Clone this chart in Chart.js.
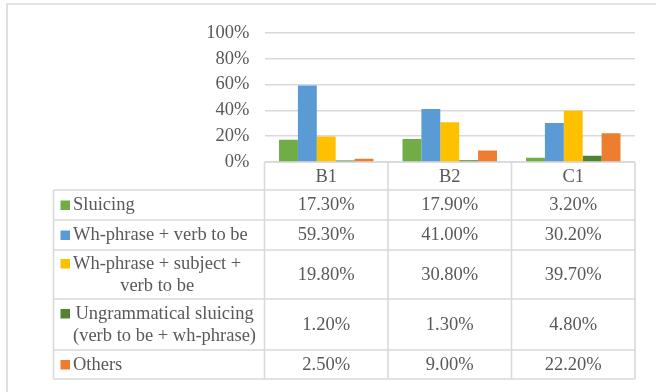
<!DOCTYPE html>
<html>
<head>
<meta charset="utf-8">
<script src="https://cdn.jsdelivr.net/npm/chart.js@4.4.1/dist/chart.umd.min.js"></script>
<style>
  html, body { margin: 0; padding: 0; background: #ffffff; }
  #wrap { width: 656px; height: 392px; position: relative; }
</style>
</head>
<body>
<div id="wrap"><canvas id="chart" width="656" height="392"></canvas></div>
<script>
// Proficiency levels (categories)
const levels = ['B1', 'B2', 'C1'];

// Response types, as wrapped in the table's first column
const seriesNames = [
  'Sluicing',
  'Wh-phrase + verb to be',
  'Wh-phrase + subject + verb to be',
  'Ungrammatical sluicing (verb to be + wh-phrase)',
  'Others'
];
const seriesLines = [
  ['Sluicing'],
  ['Wh-phrase + verb to be'],
  ['Wh-phrase + subject +', 'verb to be'],
  ['Ungrammatical sluicing', '(verb to be + wh-phrase)'],
  ['Others']
];

// Percentages per level
const sluicing      = [17.3, 17.9, 3.2];
const whVerbToBe    = [59.3, 41.0, 30.2];
const whSubjVerb    = [19.8, 30.8, 39.7];
const ungrammatical = [1.2, 1.3, 4.8];
const others        = [2.5, 9.0, 22.2];

// Value axis ticks
const yTicks = [0, 20, 40, 60, 80, 100];

const seriesValues = [sluicing, whVerbToBe, whSubjVerb, ungrammatical, others];
const seriesColors = ['#70ad47', '#5b9bd5', '#ffc000', '#548235', '#ed7d31'];

const FONT_FAMILY = "'Times New Roman', 'Liberation Serif', serif";
const FONT_SIZE = 18.5;
const TEXT_COLOR = '#595959';
const LINE_COLOR = '#d9d9d9';

// Row boundaries of the data table (header row first)
const tableRows = [162, 190, 220, 250, 299, 350, 379];
const tableLeft = 53.5;

// Draws the outer frame and the data table underneath the plot
const dataTablePlugin = {
  id: 'dataTable',
  beforeDatasetsDraw(chart) {
    const { ctx, scales: { x } } = chart;
    const n = levels.length;
    // column edges taken from the category scale
    const edges = [x.left];
    for (let i = 0; i < n - 1; i++) {
      edges.push((x.getPixelForTick(i) + x.getPixelForTick(i + 1)) / 2);
    }
    edges.push(x.right);

    ctx.save();
    ctx.strokeStyle = LINE_COLOR;
    ctx.lineWidth = 1.6;

    // outer frame (top and left visible)
    ctx.beginPath();
    ctx.moveTo(7, 392);
    ctx.lineTo(7, 4);
    ctx.lineTo(656, 4);
    ctx.stroke();

    const top = tableRows[0];
    const bottom = tableRows[tableRows.length - 1];
    ctx.beginPath();
    // horizontal lines
    ctx.moveTo(edges[0], top); ctx.lineTo(edges[n], top);
    for (let r = 1; r < tableRows.length; r++) {
      ctx.moveTo(tableLeft, tableRows[r]);
      ctx.lineTo(edges[n], tableRows[r]);
    }
    // vertical lines
    ctx.moveTo(tableLeft, tableRows[1]); ctx.lineTo(tableLeft, bottom);
    edges.forEach(e => { ctx.moveTo(e, top); ctx.lineTo(e, bottom); });
    ctx.stroke();

    ctx.font = FONT_SIZE + 'px ' + FONT_FAMILY;
    ctx.fillStyle = TEXT_COLOR;
    ctx.textBaseline = 'middle';

    seriesValues.forEach((vals, s) => {
      const rowMid = (tableRows[s + 1] + tableRows[s + 2]) / 2;
      const lines = seriesLines[s];
      const lh = 22;
      const firstY = rowMid - (lines.length - 1) * lh / 2 + 0.5;

      // legend key + wrapped label
      const textLeft = 73;
      const widths = lines.map(l => ctx.measureText(l).width);
      const blockW = Math.max(...widths);
      ctx.fillStyle = seriesColors[s];
      ctx.fillRect(60.5, firstY - 5, 9.5, 9.5);
      ctx.fillStyle = TEXT_COLOR;
      ctx.textAlign = 'center';
      lines.forEach((l, k) => {
        ctx.fillText(l, textLeft + blockW / 2, firstY + k * lh);
      });

      // values
      vals.forEach((v, i) => {
        ctx.fillText(v.toFixed(2) + '%', x.getPixelForTick(i), rowMid + 0.5);
      });
    });
    ctx.restore();
  }
};

new Chart(document.getElementById('chart'), {
  type: 'bar',
  data: {
    labels: levels,
    datasets: seriesNames.map((name, s) => ({
      label: name,
      data: seriesValues[s],
      backgroundColor: seriesColors[s],
      borderWidth: 0,
      categoryPercentage: 0.765,
      barPercentage: 1
    }))
  },
  options: {
    responsive: false,
    devicePixelRatio: 1,
    animation: false,
    layout: { padding: { top: 33, right: 21, bottom: 0, left: 0 } },
    plugins: {
      legend: { display: false },
      tooltip: { enabled: false }
    },
    scales: {
      x: {
        type: 'category',
        offset: true,
        grid: { display: false, drawTicks: false },
        border: { display: false },
        ticks: {
          color: TEXT_COLOR,
          font: { family: FONT_FAMILY, size: FONT_SIZE },
          padding: 4.5,
          maxRotation: 0
        },
        afterFit(scale) { scale.height = 230; }
      },
      y: {
        min: 0,
        max: 100,
        afterBuildTicks(scale) { scale.ticks = yTicks.map(v => ({ value: v })); },
        grid: { color: LINE_COLOR, lineWidth: 1.6, drawTicks: false },
        border: { display: false },
        ticks: {
          color: TEXT_COLOR,
          font: { family: FONT_FAMILY, size: FONT_SIZE },
          padding: 15,
          callback: v => v + '%'
        },
        afterFit(scale) { scale.width = 264.5; }
      }
    }
  },
  plugins: [dataTablePlugin]
});
</script>
</body>
</html>
